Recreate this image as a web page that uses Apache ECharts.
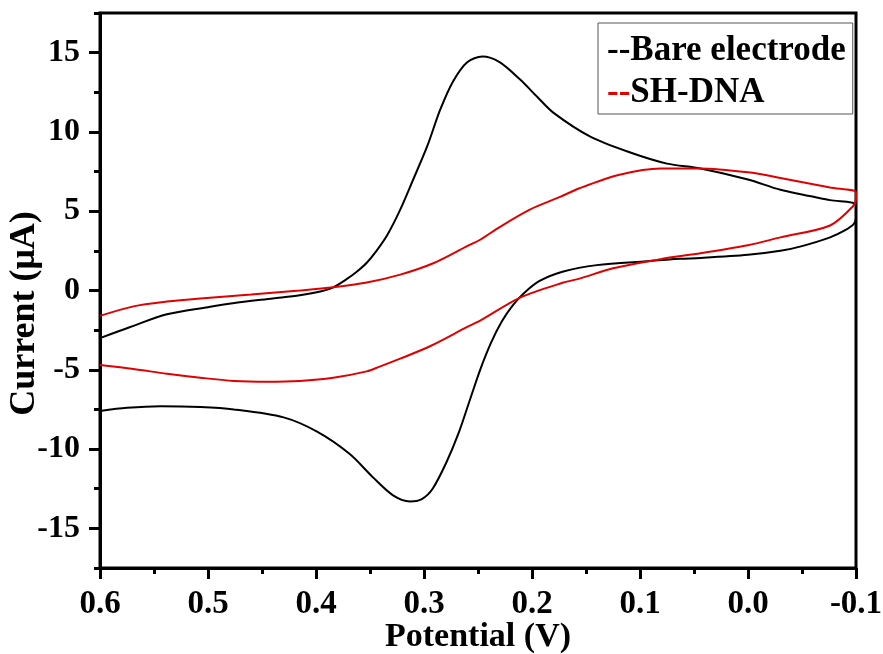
<!DOCTYPE html>
<html>
<head>
<meta charset="utf-8">
<script src="https://cdn.jsdelivr.net/npm/echarts@6/dist/echarts.min.js"></script>
<style>html,body{margin:0;padding:0;background:#fff}#c{width:883px;height:654px}</style>
</head>
<body>
<div id="c"></div>
<script>
// Potential (V) / Current (uA) pairs, loop order
const seriesNames = ['Bare electrode', 'SH-DNA'];
const bareV = [0.600,0.572,0.538,0.500,0.477,0.440,0.415,0.395,0.384,0.372,0.362,0.353,0.344,0.334,0.322,0.310,0.297,0.285,0.273,0.260,0.246,0.230,0.211,0.195,0.180,0.146,0.109,0.075,0.044,0.000,-0.030,-0.076,-0.100,
  -0.100,-0.098,-0.090,-0.076,-0.050,-0.030,0.000,0.044,0.063,0.094,0.140,0.171,0.193,0.208,0.218,0.228,0.238,0.248,0.258,0.268,0.279,0.292,0.302,0.313,0.329,0.347,0.369,0.399,0.430,0.476,0.507,0.544,0.575,0.600];
const bareI = [-3.0,-2.3,-1.5,-1.05,-0.8,-0.5,-0.3,-0.05,0.2,0.7,1.2,1.75,2.5,3.5,5.1,7.0,9.1,11.4,13.2,14.4,14.75,14.4,13.3,12.2,11.2,9.7,8.7,8.0,7.7,7.0,6.35,5.7,5.4,
  4.6,4.2,3.8,3.35,2.8,2.5,2.25,2.05,2.0,1.85,1.6,1.2,0.6,-0.2,-0.95,-1.95,-3.3,-5.0,-7.0,-9.0,-10.8,-12.5,-13.15,-13.3,-12.9,-11.8,-10.3,-8.9,-8.0,-7.5,-7.35,-7.3,-7.4,-7.6];
const dnaV = [0.600,0.569,0.538,0.507,0.460,0.415,0.384,0.353,0.322,0.292,0.260,0.248,0.230,0.202,0.174,0.156,0.119,0.081,0.044,0.000,-0.030,-0.076,-0.100,
  -0.100,-0.097,-0.076,-0.030,0.000,0.044,0.079,0.125,0.156,0.171,0.211,0.248,0.260,0.294,0.322,0.341,0.353,0.384,0.415,0.445,0.476,0.507,0.538,0.569,0.600];
const dnaI = [-1.6,-1.0,-0.7,-0.5,-0.25,0.0,0.2,0.5,1.0,1.7,2.8,3.2,4.0,5.1,5.9,6.45,7.3,7.7,7.7,7.45,7.1,6.5,6.2,
  5.8,5.3,4.1,3.35,2.85,2.35,2.0,1.4,0.75,0.5,-0.45,-1.9,-2.3,-3.5,-4.3,-4.8,-5.1,-5.5,-5.7,-5.75,-5.7,-5.5,-5.25,-4.95,-4.7];
const yLabelValues = [-15,-10,-5,0,5,10,15];
const yMinorValues = [-17.5,-12.5,-7.5,-2.5,2.5,7.5,12.5,17.5];

const pair = (xs, ys) => xs.map((x, i) => [x, ys[i]]);
const FONT = '"Liberation Serif", "Times New Roman", serif';
const colors = ['#000000', '#e00000'];

const chart = echarts.init(document.getElementById('c'), null, {renderer: 'canvas'});
chart.setOption({
  animation: false,
  grid: {left: 100, right: 27, top: 13, bottom: 86, containLabel: false, outerBoundsMode: 'none',
    show: true, borderColor: '#000', borderWidth: 3, backgroundColor: 'transparent'},
  legend: {
    orient: 'vertical', left: 598, top: 23,
    data: seriesNames,
    icon: 'rect', itemWidth: 0, itemHeight: 0, itemGap: 2,
    borderColor: '#555', borderWidth: 1, padding: [8, 7, 1, 4],
    formatter: name => name === seriesNames[0] ? '{d0|--}{t|' + name + '}' : '{d1|--}{t|' + name + '}',
    textStyle: {
      fontFamily: FONT, fontWeight: 'bold', fontSize: 35, lineHeight: 40, color: '#000',
      rich: {
        d0: {color: colors[0], fontFamily: FONT, fontWeight: 'bold', fontSize: 35, lineHeight: 40},
        d1: {color: colors[1], fontFamily: FONT, fontWeight: 'bold', fontSize: 35, lineHeight: 40},
        t: {color: '#000', fontFamily: FONT, fontWeight: 'bold', fontSize: 35, lineHeight: 40}
      }
    }
  },
  xAxis: {
    type: 'value', inverse: true, min: -0.1, max: 0.6, interval: 0.1,
    name: 'Potential (V)', nameLocation: 'middle', nameGap: 52, nameMoveOverlap: false,
    nameTextStyle: {fontFamily: FONT, fontWeight: 'bold', fontSize: 34, color: '#000'},
    axisLine: {show: true, onZero: false, lineStyle: {color: '#000', width: 3}},
    axisTick: {show: true, inside: false, length: 11, lineStyle: {color: '#000', width: 3}},
    minorTick: {show: true, splitNumber: 2, length: 6, lineStyle: {color: '#000', width: 3}},
    splitLine: {show: false},
    axisLabel: {margin: 20, fontFamily: FONT, fontWeight: 'bold', fontSize: 33, color: '#000',
      formatter: v => (Math.abs(v) < 1e-9 ? 0 : v).toFixed(1)}
  },
  yAxis: [{
    type: 'value', min: -17.5, max: 17.5,
    name: 'Current (\u03bcA)', nameLocation: 'middle', nameGap: 57, nameMoveOverlap: false,
    nameTextStyle: {fontFamily: FONT, fontWeight: 'bold', fontSize: 36, color: '#000', padding: [0, 46, 0, 0]},
    axisLine: {show: true, onZero: false, lineStyle: {color: '#000', width: 3}},
    axisTick: {show: true, inside: false, length: 11, customValues: yLabelValues, lineStyle: {color: '#000', width: 3}},
    splitLine: {show: false},
    axisLabel: {margin: 20, customValues: yLabelValues, fontFamily: FONT, fontWeight: 'bold', fontSize: 32, color: '#000'}
  }, {
    type: 'value', min: -17.5, max: 17.5, position: 'left',
    axisLine: {show: false, onZero: false},
    axisTick: {show: true, inside: false, length: 6, customValues: yMinorValues, lineStyle: {color: '#000', width: 3}},
    axisLabel: {show: false},
    splitLine: {show: false}
  }],
  series: [
    {name: seriesNames[0], type: 'line', data: pair(bareV, bareI), showSymbol: false, smooth: 0.3, color: colors[0], lineStyle: {width: 2, color: colors[0]}, yAxisIndex: 0},
    {name: seriesNames[1], type: 'line', data: pair(dnaV, dnaI), showSymbol: false, smooth: 0.3, color: colors[1], lineStyle: {width: 2, color: colors[1]}, yAxisIndex: 0}
  ]
});
</script>
</body>
</html>
